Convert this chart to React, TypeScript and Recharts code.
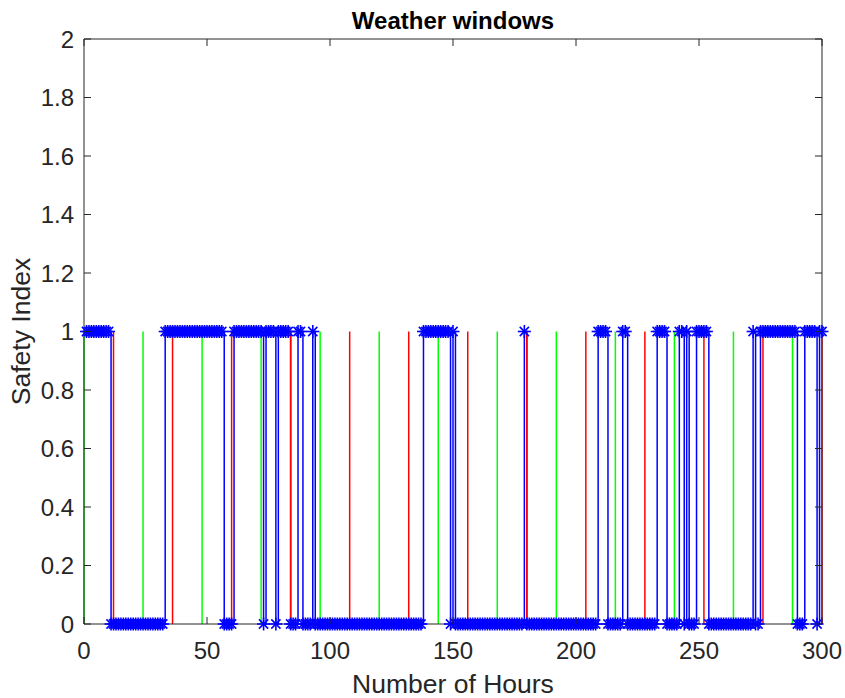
import React from 'react'
import { LineChart, Line, XAxis, YAxis, ReferenceLine } from 'recharts'

// Safety index for hours 1..300, one row per day (24 h)
const safetyIndex: number[] = [
  1, 1, 1, 1, 1, 1, 1, 1, 1, 1, 0, 0, 0, 0, 0, 0, 0, 0, 0, 0, 0, 0, 0, 0,
  0, 0, 0, 0, 0, 0, 0, 0, 1, 1, 1, 1, 1, 1, 1, 1, 1, 1, 1, 1, 1, 1, 1, 1,
  1, 1, 1, 1, 1, 1, 1, 1, 0, 0, 0, 0, 1, 1, 1, 1, 1, 1, 1, 1, 1, 1, 1, 1,
  0, 1, 1, 1, 1, 0, 1, 1, 1, 1, 1, 0, 0, 0, 1, 1, 0, 0, 0, 0, 1, 0, 0, 0,
  0, 0, 0, 0, 0, 0, 0, 0, 0, 0, 0, 0, 0, 0, 0, 0, 0, 0, 0, 0, 0, 0, 0, 0,
  0, 0, 0, 0, 0, 0, 0, 0, 0, 0, 0, 0, 0, 0, 0, 0, 0, 1, 1, 1, 1, 1, 1, 1,
  1, 1, 1, 1, 0, 1, 0, 0, 0, 0, 0, 0, 0, 0, 0, 0, 0, 0, 0, 0, 0, 0, 0, 0,
  0, 0, 0, 0, 0, 0, 0, 0, 0, 0, 1, 0, 0, 0, 0, 0, 0, 0, 0, 0, 0, 0, 0, 0,
  0, 0, 0, 0, 0, 0, 0, 0, 0, 0, 0, 0, 0, 0, 0, 0, 1, 1, 1, 1, 0, 0, 0, 0,
  0, 0, 1, 1, 0, 0, 0, 0, 0, 0, 0, 0, 0, 0, 0, 0, 1, 1, 1, 1, 0, 0, 0, 0,
  0, 1, 1, 0, 1, 0, 0, 0, 1, 1, 1, 1, 1, 0, 0, 0, 0, 0, 0, 0, 0, 0, 0, 0,
  0, 0, 0, 0, 0, 0, 0, 1, 0, 0, 1, 1, 1, 1, 1, 1, 1, 1, 1, 1, 1, 1, 1, 1,
  1, 0, 0, 0, 1, 1, 1, 1, 1, 0, 1, 1,
]

// day boundaries (green) and mid-day marks (red)
const dayStartHours = [0, 24, 48, 72, 96, 120, 144, 168, 192, 216, 240, 264, 288]
const midDayHours = [12, 36, 60, 84, 108, 132, 156, 180, 204, 228, 252, 276, 300]

const xTicks = [0, 50, 100, 150, 200, 250, 300]
const yTicks = [0, 0.2, 0.4, 0.6, 0.8, 1, 1.2, 1.4, 1.6, 1.8, 2]

const data = safetyIndex.map((value, i) => ({ hour: i + 1, value }))

const AXIS = '#262626'
const FONT = '"Liberation Sans", Arial, Helvetica, sans-serif'
const TICK_LEN = 7
const TICK_FONT = 24
const LABEL_FONT = 26.5

function Asterisk({ cx, cy }: { cx: number; cy: number }) {
  const r = 6.5
  const d = r * 0.7071
  return (
    <g stroke="#0000ff" strokeWidth={1.6}>
      <line x1={cx - r} y1={cy} x2={cx + r} y2={cy} />
      <line x1={cx} y1={cy - r} x2={cx} y2={cy + r} />
      <line x1={cx - d} y1={cy - d} x2={cx + d} y2={cy + d} />
      <line x1={cx - d} y1={cy + d} x2={cx + d} y2={cy - d} />
    </g>
  )
}

const bottomTick = (props: any) => (
  <g>
    <line x1={props.x} y1={props.y} x2={props.x} y2={props.y - TICK_LEN} stroke={AXIS} />
    <text x={props.x} y={props.y + 35} textAnchor="middle" fill={AXIS} fontSize={TICK_FONT} fontFamily={FONT}>
      {props.payload.value}
    </text>
  </g>
)

const leftTick = (props: any) => (
  <g>
    <line x1={props.x} y1={props.y} x2={props.x + TICK_LEN} y2={props.y} stroke={AXIS} />
    <text x={props.x - 10} y={props.y + 8.5} textAnchor="end" fill={AXIS} fontSize={TICK_FONT} fontFamily={FONT}>
      {props.payload.value}
    </text>
  </g>
)

const topTick = (props: any) => (
  <line x1={props.x} y1={props.y} x2={props.x} y2={props.y + TICK_LEN} stroke={AXIS} />
)

const rightTick = (props: any) => (
  <line x1={props.x} y1={props.y} x2={props.x - TICK_LEN} y2={props.y} stroke={AXIS} />
)

export default function App() {
  return (
    <div style={{ position: 'absolute', left: 0, top: 0, width: 845, height: 698, background: '#fff' }}>
      <LineChart
        width={845}
        height={698}
        data={data}
        margin={{ top: 38, right: 22, bottom: 14, left: 24 }}
      >
        <XAxis
          dataKey="hour"
          type="number"
          domain={[0, 300]}
          ticks={xTicks}
          tickSize={0}
          tickMargin={0}
          tickLine={false}
          tick={bottomTick}
          height={60}
          stroke={AXIS}
          interval={0}
          label={{
            content: ({ viewBox }: any) => (
              <text
                x={viewBox.x + viewBox.width / 2}
                y={viewBox.y + 69}
                textAnchor="middle"
                fill={AXIS}
                fontSize={LABEL_FONT}
                fontFamily={FONT}
              >
                Number of Hours
              </text>
            ),
          }}
        />
        <XAxis
          xAxisId="top"
          orientation="top"
          dataKey="hour"
          type="number"
          domain={[0, 300]}
          ticks={xTicks}
          tickSize={0}
          tickMargin={0}
          tickLine={false}
          tick={topTick}
          height={1}
          stroke={AXIS}
          interval={0}
        />
        <YAxis
          type="number"
          domain={[0, 2]}
          ticks={yTicks}
          tickSize={0}
          tickMargin={0}
          tickLine={false}
          tick={leftTick}
          width={60}
          stroke={AXIS}
          interval={0}
          label={{
            content: ({ viewBox }: any) => {
              const cx = 30
              const cy = viewBox.y + viewBox.height / 2
              return (
                <text
                  x={cx}
                  y={cy}
                  transform={`rotate(-90, ${cx}, ${cy})`}
                  textAnchor="middle"
                  fill={AXIS}
                  fontSize={LABEL_FONT}
                  fontFamily={FONT}
                >
                  Safety Index
                </text>
              )
            },
          }}
        />
        <YAxis
          yAxisId="right"
          orientation="right"
          type="number"
          domain={[0, 2]}
          ticks={yTicks}
          tickSize={0}
          tickMargin={0}
          tickLine={false}
          tick={rightTick}
          width={1}
          stroke={AXIS}
          interval={0}
        />
        {/* carries the mirrored top/right axes of the box; never visible */}
        <Line
          xAxisId="top"
          yAxisId="right"
          dataKey="value"
          stroke="none"
          dot={false}
          activeDot={false}
          legendType="none"
          isAnimationActive={false}
        />
        <Line
          dataKey="value"
          type="stepAfter"
          stroke="#0000ff"
          strokeWidth={1.5}
          isAnimationActive={false}
          dot={(p: any) => <Asterisk key={`m-${p.index}`} cx={p.cx} cy={p.cy} />}
          activeDot={false}
        />
        {dayStartHours.map((h) => (
          <ReferenceLine
            key={`g-${h}`}
            segment={[{ x: h, y: 0 }, { x: h, y: 1 }]}
            stroke="#00ff00"
            strokeWidth={1.5}
          />
        ))}
        {midDayHours.map((h) => (
          <ReferenceLine
            key={`r-${h}`}
            segment={[{ x: h, y: 0 }, { x: h, y: 1 }]}
            stroke="#ff0000"
            strokeWidth={1.5}
          />
        ))}
      </LineChart>
      <div
        style={{
          position: 'absolute',
          left: 84,
          width: 738,
          top: 7,
          textAlign: 'center',
          fontFamily: FONT,
          fontWeight: 'bold',
          fontSize: 24,
          lineHeight: '28px',
          color: '#000',
        }}
      >
        Weather windows
      </div>
    </div>
  )
}
